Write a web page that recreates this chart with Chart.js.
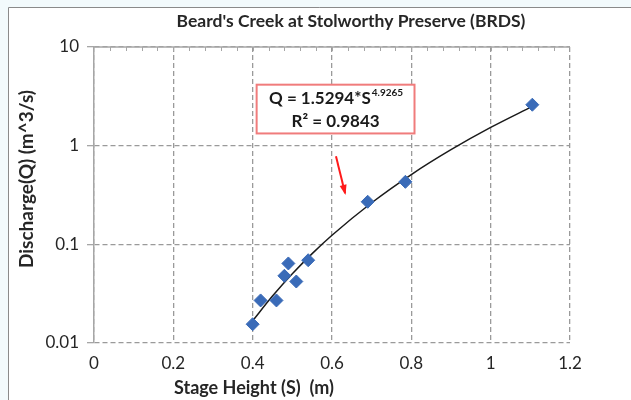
<!DOCTYPE html>
<html>
<head>
<meta charset="utf-8">
<script src="https://cdn.jsdelivr.net/npm/chart.js@4.4.1/dist/chart.umd.min.js"></script>
<style>
  html, body { margin: 0; padding: 0; background: #f2fafc; }
  #wrap { width: 631px; height: 400px; position: relative; }
</style>
</head>
<body>
<div id="wrap"><canvas id="c" width="631" height="400"></canvas></div>
<script>
// ===== Data =====
const stageHeight = [0.40, 0.42, 0.46, 0.48, 0.49, 0.51, 0.54, 0.69, 0.785, 1.105];
const discharge   = [0.0155, 0.027, 0.027, 0.048, 0.064, 0.042, 0.069, 0.27, 0.43, 2.6];

// power trendline Q = 1.5294*S^4.9265 (values as drawn)
const trendS = [0.40, 0.45, 0.50, 0.55, 0.60, 0.70, 0.80, 0.90, 1.00, 1.105];
const trendQ = [0.0168, 0.0299, 0.0503, 0.0805, 0.1235, 0.264, 0.51, 0.91, 1.53, 2.50];

const xTicks = [0, 0.2, 0.4, 0.6, 0.8, 1, 1.2];
const yTicks = [0.01, 0.1, 1, 10];

const titleText = "Beard's Creek at Stolworthy Preserve (BRDS)";
const xTitle = 'Stage Height (S)  (m)';
const yTitle = 'Discharge(Q) (m^3/s)';
const eqMain = 'Q = 1.5294*S';
const eqExp = '4.9265';
const r2Text = 'R\u00b2 = 0.9843';

const FONT = 'Lato, "Open Sans", sans-serif';
const GRID = '#9a9a9a';

// ===== Extras: frame, titles, top axis line, equation box, arrow =====
const extras = {
    id: 'extras',
    beforeDraw(chart) {
        const ctx = chart.ctx;
        ctx.save();
        ctx.fillStyle = '#f2fafc';
        ctx.fillRect(0, 0, 631, 400);
        ctx.fillStyle = '#ffffff';
        ctx.fillRect(9, 8, 622, 392);
        ctx.strokeStyle = '#8a8a8a';
        ctx.lineWidth = 1;
        ctx.beginPath();
        ctx.moveTo(8.5, 400); ctx.lineTo(8.5, 7.5); ctx.lineTo(631, 7.5);
        ctx.stroke();
        ctx.restore();
    },
    afterDraw(chart) {
        const ctx = chart.ctx;
        const a = chart.chartArea;
        const xs = chart.scales.x, ys = chart.scales.y;
        ctx.save();

        // top solid line with minor ticks
        ctx.strokeStyle = '#a6a6a6';
        ctx.lineWidth = 1.5;
        ctx.beginPath();
        ctx.moveTo(a.left, a.top); ctx.lineTo(a.right, a.top);
        ctx.stroke();
        ctx.lineWidth = 1;
        ctx.beginPath();
        for (let v = 0.04; v < 1.2; v += 0.04) {
            const px = Math.round(xs.getPixelForValue(v)) + 0.5;
            ctx.moveTo(px, a.top); ctx.lineTo(px, a.top + 4);
        }
        ctx.stroke();

        // titles
        ctx.fillStyle = '#262626';
        ctx.textAlign = 'center';
        ctx.textBaseline = 'middle';
        ctx.font = 'bold 17.5px ' + FONT;
        ctx.fillText(titleText, 351, 21);
        ctx.font = 'bold 18px ' + FONT;
        ctx.fillText(xTitle, 254, 388);
        ctx.save();
        ctx.translate(27, 179);
        ctx.rotate(-Math.PI / 2);
        ctx.font = 'bold 19px ' + FONT;
        ctx.fillText(yTitle, 0, 0);
        ctx.restore();

        // equation box (placed in data coordinates)
        const bx0 = xs.getPixelForValue(0.410), bx1 = xs.getPixelForValue(0.808);
        const by0 = ys.getPixelForValue(4.15), by1 = ys.getPixelForValue(1.33);
        ctx.fillStyle = '#ffffff';
        ctx.fillRect(bx0, by0, bx1 - bx0, by1 - by0);
        ctx.strokeStyle = '#f07c7c';
        ctx.lineWidth = 2;
        ctx.strokeRect(bx0, by0, bx1 - bx0, by1 - by0);

        ctx.fillStyle = '#1a1a1a';
        ctx.font = 'bold 17px ' + FONT;
        const w1 = ctx.measureText(eqMain).width;
        ctx.font = 'bold 10px ' + FONT;
        const w2 = ctx.measureText(eqExp).width;
        const cx = (bx0 + bx1) / 2;
        const sx = cx - (w1 + w2) / 2;
        ctx.textAlign = 'left';
        ctx.font = 'bold 17px ' + FONT;
        ctx.fillText(eqMain, sx, by0 + 14);
        ctx.font = 'bold 10px ' + FONT;
        ctx.fillText(eqExp, sx + w1 + 1, by0 + 8);
        ctx.textAlign = 'center';
        ctx.font = 'bold 17px ' + FONT;
        ctx.fillText(r2Text, cx, by0 + 37);

        // red arrow
        const ax0 = xs.getPixelForValue(0.61), ay0 = ys.getPixelForValue(0.78);
        const ax1 = xs.getPixelForValue(0.633), ay1 = ys.getPixelForValue(0.33);
        ctx.strokeStyle = '#ff1a1a';
        ctx.fillStyle = '#ff1a1a';
        ctx.lineWidth = 2;
        ctx.beginPath();
        ctx.moveTo(ax0, ay0); ctx.lineTo(ax1, ay1);
        ctx.stroke();
        const ang = Math.atan2(ay1 - ay0, ax1 - ax0);
        ctx.beginPath();
        ctx.moveTo(ax1 + Math.cos(ang) * 2, ay1 + Math.sin(ang) * 2);
        ctx.lineTo(ax1 - Math.cos(ang - 0.4) * 9, ay1 - Math.sin(ang - 0.4) * 9);
        ctx.lineTo(ax1 - Math.cos(ang + 0.4) * 9, ay1 - Math.sin(ang + 0.4) * 9);
        ctx.closePath();
        ctx.fill();

        ctx.restore();
    }
};

// ===== Chart =====
const ctx = document.getElementById('c').getContext('2d');
new Chart(ctx, {
    type: 'scatter',
    data: {
        datasets: [
            {
                label: 'Observed',
                data: stageHeight.map((s, i) => ({ x: s, y: discharge[i] })),
                pointStyle: 'rectRot',
                pointRadius: 6.5,
                pointBackgroundColor: '#3a6bb8',
                pointBorderColor: '#3a6bb8',
                pointBorderWidth: 1,
                order: 1
            },
            {
                label: 'Power fit',
                type: 'line',
                data: trendS.map((s, i) => ({ x: s, y: trendQ[i] })),
                borderColor: '#1a1a1a',
                borderWidth: 1.5,
                pointRadius: 0,
                cubicInterpolationMode: 'monotone',
                fill: false,
                order: 2
            }
        ]
    },
    options: {
        responsive: false,
        animation: false,
        layout: { padding: { left: 0, right: 61, top: 47, bottom: 0 } },
        plugins: { legend: { display: false }, tooltip: { enabled: false } },
        scales: {
            x: {
                type: 'linear',
                min: 0, max: 1.2,
                afterBuildTicks: s => { s.ticks = xTicks.map(v => ({ value: v })); },
                afterFit: s => { s.height = 57; },
                ticks: {
                    color: '#262626',
                    font: { family: FONT, size: 17 },
                    padding: 10,
                    maxRotation: 0,
                    callback: v => String(v)
                },
                grid: { color: GRID, lineWidth: 1.3, drawTicks: false },
                border: { display: false, dash: [5, 3] }
            },
            y: {
                type: 'logarithmic',
                min: 0.01, max: 10,
                afterBuildTicks: s => { s.ticks = yTicks.map(v => ({ value: v })); },
                afterFit: s => { s.width = 94; },
                ticks: {
                    color: '#262626',
                    font: { family: FONT, size: 17 },
                    padding: 8,
                    callback: v => String(v)
                },
                grid: { color: GRID, lineWidth: 1.3, tickLength: 7, tickBorderDash: [], tickColor: '#a6a6a6' },
                border: { display: true, color: '#a6a6a6', width: 1.5, dash: [5, 3] }
            }
        }
    },
    plugins: [extras]
});
</script>
</body>
</html>
